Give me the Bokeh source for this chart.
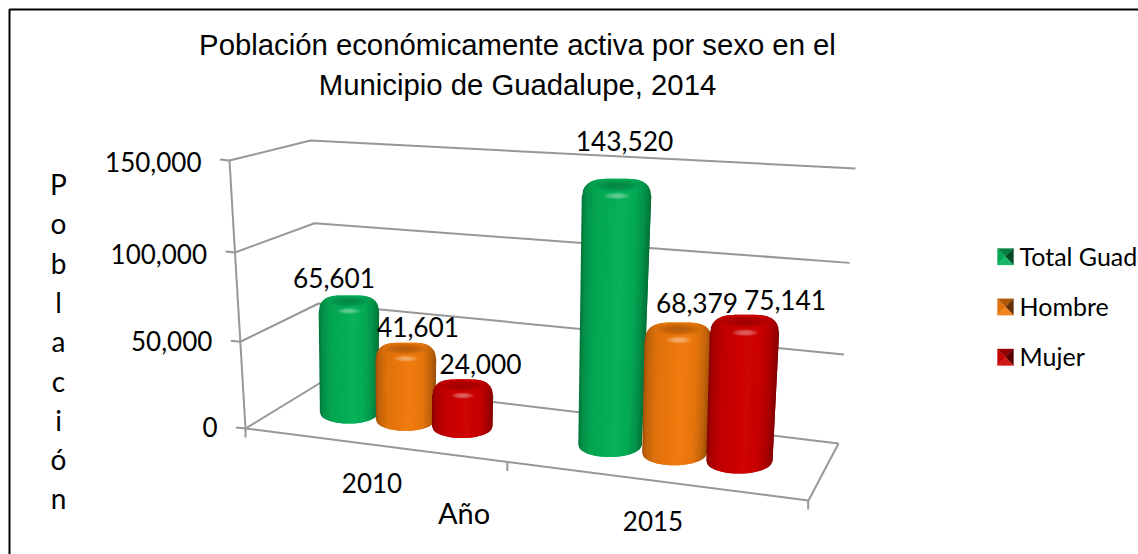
from bokeh.plotting import figure
from bokeh.models import Range1d
from bokeh.core.properties import value
from bokeh.embed import file_html
from bokeh.resources import INLINE

# ---- data ----
years = ["2010", "2015"]
series_names = ["Total Guadalupe", "Hombre", "Mujer"]
total = [65601, 143520]
hombre = [41601, 68379]
mujer = [24000, 75141]
y_ticks = [0, 50000, 100000, 150000]
y_tick_labels = ["0", "50,000", "100,000", "150,000"]
title_lines = ["Población económicamente activa por sexo en el", "Municipio de Guadalupe, 2014"]
y_title = "Población"
x_title = "Año"
colors = ["#05B058", "#EF7A0E", "#CE0202"]

W, H = 1138, 554
p = figure(width=W, height=H, output_backend="svg", toolbar_location=None,
           x_range=Range1d(0, W), y_range=Range1d(H, 0),
           x_axis_location=None, y_axis_location=None, min_border=0,
           outline_line_color=None, background_fill_color="white", border_fill_color="white")
p.grid.visible = False

GRAY = "#979797"
LATO = value("Lato")
ARIAL = value("Liberation Sans")


def lerp(a, b, t):
    return a + (b - a) * t


# --- 3D projection: walls and floor ---
FL0, FL1 = (245, 428), (229, 160)
BL0, BL1 = (322, 381), (310, 140)
BR0, BR1 = (838, 443), (855, 168)
FR0 = (808, 500)


def zfrac(z):
    t = z / 150000
    return t / (1 + 0.045 * (1 - t))


def up(a0, a1, z):
    f = zfrac(z)
    return lerp(a0[0], a1[0], f), lerp(a0[1], a1[1], f)


def mid_x(u):
    return (283 + 218.8 * u) / (1 - 0.0622 * u)


def mid_y(x):
    return 404 + (x - 283) * 0.124


def front_pt(u):
    x = (245 + 229 * u) / (1 - 0.0648 * u)
    return x, FL0[1] + (x - FL0[0]) * (FR0[1] - FL0[1]) / (FR0[0] - FL0[0])


# gridlines
for z in y_ticks:
    a, b, c = up(FL0, FL1, z), up(BL0, BL1, z), up(BR0, BR1, z)
    p.line([a[0], b[0], c[0]], [a[1], b[1], c[1]], line_color=GRAY, line_width=2)
    p.line([a[0] - 9.5, a[0]], [a[1] - 1, a[1]], line_color=GRAY, line_width=2)
# floor and axis
p.line([BR0[0], FR0[0], FL0[0]], [BR0[1], FR0[1], FL0[1]], line_color=GRAY, line_width=2)
p.line([FL0[0], FL1[0]], [FL0[1], FL1[1]], line_color=GRAY, line_width=2)
for u in [0, 1, 2]:
    fx, fy = front_pt(u)
    p.line([fx, fx], [fy, fy + 9], line_color=GRAY, line_width=2)


# --- cylinders ---
def shade(hexc, f):
    r, g, b = int(hexc[1:3], 16), int(hexc[3:5], 16), int(hexc[5:7], 16)
    if f <= 1:
        r, g, b = r * f, g * f, b * f
    else:
        w = f - 1
        r, g, b = r + (255 - r) * w, g + (255 - g) * w, b + (255 - b) * w
    return "#%02x%02x%02x" % (int(r), int(g), int(b))


STOPS = [(-1, .66), (-.88, .82), (-.6, .94), (-.2, .98), (.15, 1.02), (.55, .96), (.82, .82), (1, .64)]


def factor(t):
    for (t0, f0), (t1, f1) in zip(STOPS, STOPS[1:]):
        if t <= t1:
            return lerp(f0, f1, (t - t0) / (t1 - t0))
    return STOPS[-1][1]


def cylinder(u, cat_u, val, col):
    x0 = mid_x(u)
    y0 = mid_y(x0)
    cat_x = mid_x(cat_u)
    s = 168 + 0.063 * (cat_x - 405)
    c0 = 7 - 0.011 * (cat_x - 405)
    tilt = 0.05 * (cat_x - 405) / 270
    ytop = y0 - (val * s / 100000 + c0 + tilt * (x0 - cat_x))
    ry = 11 + (x0 - 347) * 0.004
    ybot = y0 + ry
    hwb = 29 + (x0 - 347) * 0.0105
    lean = (x0 - 350) * 0.0001
    grow = 0.012

    def xat(t, y):
        return x0 + lean * (y0 - y) + t * (hwb + grow * (y0 - y))

    def ytopat(t):
        return ytop + ry * 1.5 * (1 - (1 - min(abs(t), 1) ** 4) ** 0.5)

    def yboat(t):
        return ybot - ry * (1 - (1 - min(abs(t), 1) ** 2) ** 0.5)

    n = int(hwb * 2)
    xs, ys, cs = [], [], []
    for i in range(n):
        # each strip reaches into the next one, which then paints over the seam
        t0, t1, t2 = -1 + 2 * i / n, -1 + 2 * (i + 1) / n, min(1, -1 + 2 * (i + 2) / n)
        a0, a1 = ytopat(t0), ytopat(t2)
        b0, b1 = yboat(t0), yboat(t2)
        xs.append([xat(t0, a0), xat(t2, a1), xat(t2, b1), xat(t0, b0)])
        ys.append([a0, a1, b1, b0])
        cs.append(shade(col, factor((t0 + t1) / 2)))
    p.patches(xs, ys, fill_color=cs, line_color=None)

    # bevel: darker cap and highlight below it
    cx = xat(0, ytop)
    hw = hwb + grow * (y0 - ytop)
    for k in range(6):
        q = 1 - k / 7
        p.ellipse([cx], [ytop + ry * 0.55], width=[hw * 1.3 * q], height=[ry * 1.0 * q],
                  fill_color=shade(col, 0.72), fill_alpha=0.2, line_color=None)
    for k in range(6):
        q = 1 - k / 7
        p.ellipse([cx], [ytop + ry * 1.42], width=[hw * 0.75 * q], height=[ry * 0.55 * q],
                  fill_color=shade(col, 1.5), fill_alpha=0.2, line_color=None)


OFFS = [-0.228, 0, 0.222]
all_series = [total, hombre, mujer]
for cat, base in enumerate([0.5, 1.5]):
    for j, ser in enumerate(all_series):
        cylinder(base + OFFS[j], base, ser[cat], colors[j])


# --- text ---
def label(x, y, s, size, font=LATO, align="center", color="#000000"):
    p.text([x], [y], text=[s], text_font=font, text_font_size=f"{size}px", text_align=align,
           text_baseline="middle", text_color=color)


label(517, 44, title_lines[0], 29.3, ARIAL)
label(517, 84, title_lines[1], 29.3, ARIAL)

# data labels
lab_pos = {(0, 0): (333.5, 277.5), (0, 1): (417.5, 326.5), (0, 2): (480, 363.5),
           (1, 0): (624, 140.5), (1, 1): (696.5, 302.5), (1, 2): (784.5, 299.5)}
for (c, j), (lx, ly) in lab_pos.items():
    label(lx, ly, f"{all_series[j][c]:,}", 26.3)

# axis labels
tick_dy = [-2, -1, 2, 1.5]
for z, txt, dy in zip(y_ticks, y_tick_labels, tick_dy):
    ax, ay = up(FL0, FL1, z)
    label(ax - 28, ay + dy, txt, 26, align="right")

label(371.5, 482.5, years[0], 26)
label(652.5, 520.5, years[1], 26)
label(463.5, 512, x_title, 29)
for i, ch in enumerate(y_title):
    label(58, 183.5 + i * 39.3, ch, 28)

# legend
for j, nm in enumerate(series_names):
    x1, x2 = 997, 1013
    y1 = 248 + j * 50.2
    y2 = y1 + 16.5
    cx, cy = (x1 + x2) / 2, (y1 + y2) / 2
    col = colors[j]
    tri = [([x1, x2, cx], [y1, y1, cy], 0.72), ([x1, cx, x1], [y1, cy, y2], 0.95),
           ([x2, x2, cx], [y1, y2, cy], 0.42), ([x1, x2, cx], [y2, y2, cy], 1.08)]
    for tx, ty, f in tri:
        c = shade(col, f)
        p.patch(tx, ty, fill_color=c, line_color=c, line_width=0.3)
    label(1019, y1 + 7, nm, 25, align="left")

# frame
p.line([9, 9, W], [H, 9, 9], line_color="#000000", line_width=2)

open("out.html", "w").write(file_html(p, INLINE))
